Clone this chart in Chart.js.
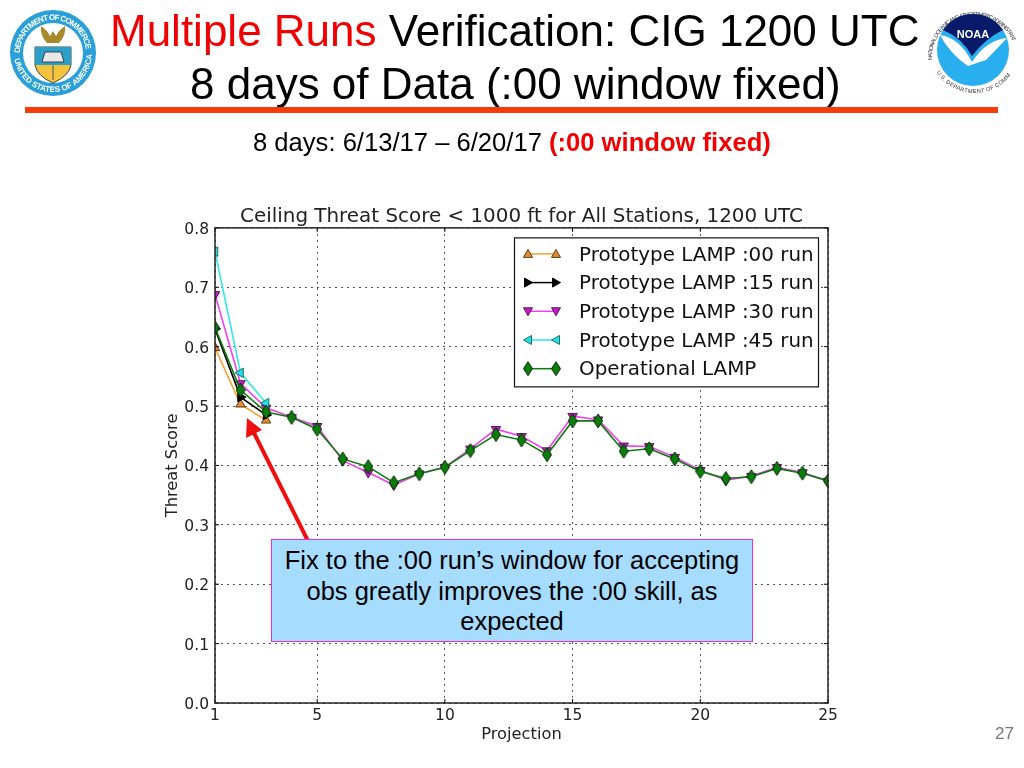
<!DOCTYPE html>
<html>
<head>
<meta charset="utf-8">
<title>Multiple Runs Verification</title>
<script src="https://cdn.jsdelivr.net/npm/chart.js@4/dist/chart.umd.min.js"></script>
<style>
html, body { margin: 0; padding: 0; background: #fff; }
#page { position: relative; width: 1024px; height: 768px; overflow: hidden; font-family: "Liberation Sans", Arial, sans-serif; color: #000; }
#page > * { position: absolute; }
canvas { left: 0; top: 0; }
.headline { left: 0; font-size: 44px; line-height: 50px; white-space: nowrap; }
.red { color: #f00000; }
#rule { left: 25px; top: 107px; width: 973px; height: 6px; background: #f53c0a; }
#sub { left: 253px; top: 127px; font-size: 25.6px; line-height: 30px; white-space: nowrap; }
#sub b { color: #f00000; }
#note { left: 271px; top: 539px; width: 480px; background: #a6dcff; border: 1px solid #e030e0;
  font-size: 25.5px; line-height: 30.5px; text-align: center; padding-top: 5px; box-sizing: content-box; height: 96px; }
#num { left: 995px; top: 724px; font-size: 17px; color: #777; }
svg { overflow: visible; }
</style>
</head>
<body>
<div id="page">
  <canvas id="chartThreat" width="1024" height="768" style="width:1024px;height:768px"></canvas>

  <div class="headline" style="left:110px;top:6px"><span class="red">Multiple Runs</span> Verification: CIG 1200 UTC</div>
  <div class="headline" style="left:190px;top:59px">8 days of Data (:00 window fixed)</div>
  <div id="rule"></div>
  <div id="sub">8 days: 6/13/17 – 6/20/17 <b>(:00 window fixed)</b></div>

  <!-- flecha roja -->
  <svg style="left:0;top:0" width="1024" height="768">
    <line x1="308" y1="541" x2="253" y2="431" stroke="#f01010" stroke-width="4"/>
    <polygon points="247,418 246,438 262,430" fill="#f01010"/>
  </svg>

  <div id="note">Fix to the :00 run’s window for accepting<br>obs greatly improves the :00 skill, as<br>expected</div>
  <div id="num">27</div>

  <!-- sello Commerce -->
  <svg style="left:0;top:0" width="110" height="110" viewBox="0 0 110 110">
    <circle cx="53" cy="53" r="43" fill="#2b9fd8"/>
    <circle cx="53" cy="53" r="30" fill="#fff"/>
    <path id="arcTop" d="M 20 53 A 33 33 0 0 1 86 53" fill="none"/>
    <path id="arcBot" d="M 14 53 A 39 39 0 0 0 92 53" fill="none"/>
    <text font-family="Liberation Sans" font-size="8" font-weight="bold" fill="#fff" textLength="100"><textPath href="#arcTop">DEPARTMENT OF COMMERCE</textPath></text>
    <text font-family="Liberation Sans" font-size="8" font-weight="bold" fill="#fff"><textPath href="#arcBot" startOffset="6">UNITED STATES OF AMERICA</textPath></text>
    <path d="M 41 26 Q 47 30 50 36 L 53 31 L 56 36 Q 59 30 65 26 Q 66 36 59 43 L 47 43 Q 40 36 41 26 Z" fill="#a8892c"/>
    <path d="M 35 47 L 71 47 L 71 65 Q 69 76 53 83 Q 37 76 35 65 Z" fill="#f2c33c" stroke="#444" stroke-width="1"/>
    <path d="M 35 47 L 71 47 L 71 65 L 35 65 Z" fill="#2b9fc8"/>
    <path d="M 42 62 L 64 62 L 61 52 L 45 52 Z" fill="#e8e8e8" stroke="#223" stroke-width="0.8"/>
    <line x1="53" y1="65" x2="53" y2="80" stroke="#555" stroke-width="1"/>
  </svg>

  <!-- logo NOAA -->
  <svg style="left:920px;top:0" width="104" height="110" viewBox="0 0 104 110">
    <path id="noaaTop" d="M 12 60 A 42 42 0 0 1 92 40" fill="none"/>
    <path id="noaaBot" d="M 20 70 A 41 41 0 0 0 88 72" fill="none"/>
    <text font-family="Liberation Sans" font-size="5.6" fill="#333" textLength="125"><textPath href="#noaaTop">NATIONAL OCEANIC AND ATMOSPHERIC ADMINISTRATION</textPath></text>
    <text font-family="Liberation Sans" font-size="5.6" fill="#333"><textPath href="#noaaBot" dominant-baseline="hanging">U.S. DEPARTMENT OF COMMERCE</textPath></text>
    <circle cx="53" cy="50" r="36" fill="#29aef0"/>
    <path d="M 23 30 A 36 36 0 0 1 83 30 Q 66 38 52 56 Q 42 38 23 30 Z" fill="#0a1a6a"/>
    <path d="M 20 35 Q 40 38 52 62 Q 66 40 87 38 Q 74 52 66 60 L 48 66 Q 30 54 20 35 Z" fill="#fff"/>
    <text x="53" y="38" text-anchor="middle" font-family="Liberation Sans" font-size="11" font-weight="bold" fill="#fff">NOAA</text>
  </svg>
</div>

<script>
const projections = [1, 2, 3, 4, 5, 6, 7, 8, 9, 10, 11, 12, 13, 14, 15, 16, 17, 18, 19, 20, 21, 22, 23, 24, 25];
const xTickValues = [1, 5, 10, 15, 20, 25];

const protoRun00 = [0.598, 0.503, 0.476];
const protoRun15 = [0.630, 0.515, 0.485];
const protoRun30 = [0.688, 0.538, 0.497, 0.481, 0.466, 0.408, 0.388, 0.367, 0.386, 0.397, 0.428, 0.461, 0.449, 0.425, 0.483, 0.477, 0.433, 0.432, 0.414, 0.392, 0.375, 0.382, 0.397, 0.388, 0.374];
const protoRun45 = [0.760, 0.556, 0.505];
const operational = [0.632, 0.527, 0.490, 0.481, 0.461, 0.411, 0.398, 0.371, 0.386, 0.397, 0.425, 0.452, 0.443, 0.418, 0.475, 0.475, 0.424, 0.428, 0.411, 0.390, 0.378, 0.381, 0.395, 0.387, 0.374];

const seriesLabels = ["Prototype LAMP :00 run", "Prototype LAMP :15 run", "Prototype LAMP :30 run", "Prototype LAMP :45 run", "Operational LAMP"];

// rombo angosto como el de matplotlib
function thinDiamond(fill, edge) {
    const c = document.createElement("canvas");
    c.width = 10;
    c.height = 16;
    const g = c.getContext("2d");
    g.beginPath();
    g.moveTo(5, 1); g.lineTo(9.5, 8); g.lineTo(5, 15); g.lineTo(0.5, 8); g.closePath();
    g.fillStyle = fill;
    g.fill();
    g.strokeStyle = edge;
    g.lineWidth = 1;
    g.stroke();
    return c;
}

const markerDiamond = thinDiamond("#0a7d0a", "#0b2a0b");

const styles = [
    { line: "#f5a030", fill: "#e8882a", edge: "#5a4020", shape: "triangle", rot: 0 },
    { line: "#000000", fill: "#000000", edge: "#000000", shape: "triangle", rot: 90 },
    { line: "#f040f0", fill: "#c818c8", edge: "#502050", shape: "triangle", rot: 180 },
    { line: "#30e8e8", fill: "#20e0e0", edge: "#207070", shape: "triangle", rot: -90 },
    { line: "#0a7d0a", fill: "#0a7d0a", edge: "#0b2a0b", shape: markerDiamond, rot: 0 }
];
const seriesValues = [protoRun00, protoRun15, protoRun30, protoRun45, operational];

function drawMarker(c, st, x, y) {
    if (st.shape === "triangle") {
        c.save();
        c.translate(x, y);
        c.rotate(st.rot * Math.PI / 180);
        c.beginPath();
        c.moveTo(0, -4.5); c.lineTo(4.5, 3.5); c.lineTo(-4.5, 3.5); c.closePath();
        c.fillStyle = st.fill;
        c.fill();
        c.strokeStyle = st.edge;
        c.lineWidth = 1;
        c.stroke();
        c.restore();
    } else {
        c.drawImage(st.shape, x - 5, y - 8);
    }
}

// marco, marcas interiores y leyenda dentro del area
const framePlugin = {
    id: "frameLegend",
    afterLayout(chart) {
        // titulo centrado sobre el area del grafico, no sobre el canvas
        const t = chart.titleBlock;
        t.left = chart.chartArea.left;
        t.right = chart.chartArea.right;
        t.width = t.right - t.left;
    },
    afterDatasetsDraw(chart) {
        const { ctx: c, chartArea: a, scales: { x, y } } = chart;
        c.save();
        c.strokeStyle = "#000";
        c.lineWidth = 1;
        c.beginPath();
        xTickValues.forEach(v => {
            const px = x.getPixelForValue(v);
            c.moveTo(px, a.bottom); c.lineTo(px, a.bottom - 4);
            c.moveTo(px, a.top); c.lineTo(px, a.top + 4);
        });
        y.ticks.forEach(t => {
            const py = y.getPixelForValue(t.value);
            c.moveTo(a.left, py); c.lineTo(a.left + 4, py);
            c.moveTo(a.right, py); c.lineTo(a.right - 4, py);
        });
        c.stroke();
        c.lineWidth = 1.5;
        c.strokeStyle = "#222";
        c.strokeRect(a.left, a.top, a.right - a.left, a.bottom - a.top);

        // leyenda
        const lx = a.left + 299.5, ly = a.top + 10, lw = 304, lh = 149;
        c.fillStyle = "#fff";
        c.fillRect(lx, ly, lw, lh);
        c.lineWidth = 1.2;
        c.strokeStyle = "#111";
        c.strokeRect(lx, ly, lw, lh);
        c.font = "19.9px 'DejaVu Sans'";
        c.textBaseline = "middle";
        c.textAlign = "left";
        seriesLabels.forEach((label, i) => {
            const rowY = ly + 16 + i * 28.7;
            const st = styles[i];
            c.strokeStyle = st.line;
            c.lineWidth = 1.5;
            c.beginPath();
            c.moveTo(lx + 13, rowY);
            c.lineTo(lx + 41, rowY);
            c.stroke();
            drawMarker(c, st, lx + 13.5, rowY);
            drawMarker(c, st, lx + 41.5, rowY);
            c.fillStyle = "#111";
            c.fillText(label, lx + 64.5, rowY + 1.5);
        });
        c.restore();
    }
};

new Chart(document.getElementById("chartThreat"), {
    type: "line",
    data: {
        datasets: seriesValues.map((vals, i) => ({
            label: seriesLabels[i],
            data: vals.map((v, k) => ({ x: projections[k], y: v })),
            borderColor: styles[i].line,
            borderWidth: 1.6,
            backgroundColor: styles[i].fill,
            pointStyle: styles[i].shape,
            pointRotation: styles[i].rot,
            pointRadius: 5.5,
            pointBackgroundColor: styles[i].fill,
            pointBorderColor: styles[i].edge,
            pointBorderWidth: 1,
            order: 4 - i
        }))
    },
    options: {
        responsive: false,
        animation: false,
        devicePixelRatio: 1,
        layout: { padding: { left: 163, right: 196, top: 4, bottom: 20 } },
        plugins: {
            legend: { display: false },
            tooltip: { enabled: false },
            title: {
                display: true,
                text: "Ceiling Threat Score < 1000 ft for All Stations, 1200 UTC",
                color: "#222",
                font: { family: "DejaVu Sans", size: 19.9, weight: "normal" },
                padding: { top: 201, bottom: -1 }
            }
        },
        scales: {
            x: {
                type: "linear",
                min: 1,
                max: 25,
                afterBuildTicks: s => { s.ticks = xTickValues.map(v => ({ value: v })); },
                afterFit: s => { s.height = 45; },
                ticks: { color: "#222", font: { family: "DejaVu Sans", size: 15.5 }, maxRotation: 0, padding: 4 },
                grid: { color: "#555", lineWidth: 1, drawTicks: false },
                border: { dash: [2, 4], display: false },
                title: { display: true, text: "Projection", color: "#222", font: { family: "DejaVu Sans", size: 16.3 }, padding: { top: 2, bottom: 3 } }
            },
            y: {
                min: 0,
                max: 0.8,
                afterFit: s => { s.width = 52; },
                ticks: { stepSize: 0.1, color: "#222", font: { family: "DejaVu Sans", size: 15.5 }, padding: 6, labelOffset: 2, callback: v => v.toFixed(1) },
                grid: { color: "#555", lineWidth: 1, drawTicks: false },
                border: { dash: [2, 4], display: false },
                title: { display: true, text: "Threat Score", color: "#222", font: { family: "DejaVu Sans", size: 16.3 }, padding: { top: 0, bottom: 4 } }
            }
        }
    },
    plugins: [framePlugin]
});
</script>
</body>
</html>
